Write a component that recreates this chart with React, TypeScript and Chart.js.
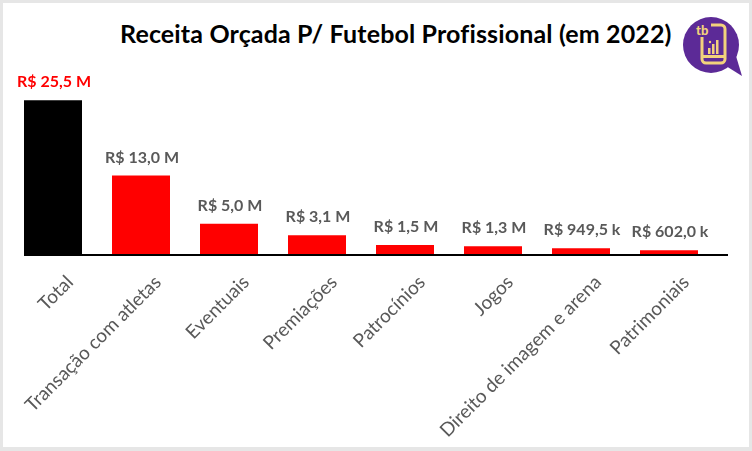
import { useEffect, useRef } from "react";
import { Chart, registerables } from "chart.js";

Chart.register(...registerables);

const categories = [
  "Total",
  "Transação com atletas",
  "Eventuais",
  "Premiações",
  "Patrocínios",
  "Jogos",
  "Direito de imagem e arena",
  "Patrimoniais",
];
const valuesMillions = [25.5, 13.0, 5.0, 3.1, 1.5, 1.3, 0.9495, 0.602];
const barColors = ["#000000", "#ff0000", "#ff0000", "#ff0000", "#ff0000", "#ff0000", "#ff0000", "#ff0000"];
const labelColors = ["#ff0000", "#595959", "#595959", "#595959", "#595959", "#595959", "#595959", "#595959"];
const yMax = 30;
const titleText = "Receita Orçada P/ Futebol Profissional (em 2022)";

const LABEL_SHIFT = 15;

function formatValue(v: number): string {
  if (v >= 1) return `R$ ${v.toFixed(1).replace(".", ",")} M`;
  return `R$ ${(v * 1000).toFixed(1).replace(".", ",")} k`;
}

const valueLabelsPlugin = {
  id: "valueLabels",
  afterDatasetsDraw(chart: any) {
    const ctx = chart.ctx;
    const meta = chart.getDatasetMeta(0);
    ctx.save();
    ctx.font = "bold 16px Lato";
    ctx.textAlign = "center";
    ctx.textBaseline = "alphabetic";
    meta.data.forEach((bar: any, i: number) => {
      ctx.fillStyle = labelColors[i];
      ctx.fillText(formatValue(valuesMillions[i]), bar.x + 1, bar.y - 13);
    });
    ctx.restore();
  },
};

const baselinePlugin = {
  id: "baseline",
  afterDatasetsDraw(chart: any) {
    const ctx = chart.ctx;
    const { left, right } = chart.chartArea;
    const y = chart.scales.y.getPixelForValue(0) + 1;
    ctx.save();
    ctx.strokeStyle = "#000000";
    ctx.lineWidth = 2;
    ctx.beginPath();
    ctx.moveTo(left + LABEL_SHIFT, y);
    ctx.lineTo(right + LABEL_SHIFT, y);
    ctx.stroke();
    ctx.restore();
  },
};

function Logo() {
  return (
    <svg
      width="64"
      height="64"
      viewBox="0 0 64 64"
      style={{ position: "absolute", left: 682, top: 16 }}
    >
      <circle cx="29" cy="29" r="28" fill="#5c2a97" />
      <polygon points="44,50 60,60 54,40" fill="#5c2a97" />
      <rect x="20" y="9" width="23" height="38" rx="4" fill="none" stroke="#f2d27c" strokeWidth="3" />
      <rect x="14" y="7" width="15" height="14" fill="#5c2a97" />
      <text x="14" y="19" fontFamily="Lato" fontWeight="900" fontSize="13" fill="#f2d27c">tb</text>
      <rect x="20" y="39" width="23" height="3" fill="#f2d27c" />
      <circle cx="31.5" cy="43.5" r="1.6" fill="#5c2a97" />
      <rect x="26" y="32" width="2.5" height="6" fill="#f2d27c" />
      <rect x="30" y="28" width="2.5" height="10" fill="#f2d27c" />
      <rect x="34" y="24" width="2.5" height="14" fill="#f2d27c" />
      <circle cx="28" cy="26" r="1.2" fill="#f2d27c" />
    </svg>
  );
}

export default function App() {
  const canvasRef = useRef<HTMLCanvasElement | null>(null);

  useEffect(() => {
    if (!canvasRef.current) return;
    const chart = new Chart(canvasRef.current, {
      type: "bar",
      data: {
        labels: categories,
        datasets: [
          {
            data: valuesMillions,
            backgroundColor: barColors,
            borderWidth: 0,
            categoryPercentage: 1,
            barPercentage: 58 / 88,
          },
        ],
      },
      options: {
        animation: false,
        responsive: false,
        devicePixelRatio: 1,
        layout: { padding: { left: 9, right: 39, top: 73, bottom: 0 } },
        plugins: {
          legend: { display: false },
          tooltip: { enabled: false },
          title: { display: false },
        },
        scales: {
          x: {
            type: "category",
            grid: { display: false },
            border: { display: false },
            afterFit: (s: any) => {
              s.height = 197;
            },
            ticks: {
              minRotation: 45,
              maxRotation: 45,
              autoSkip: false,
              labelOffset: LABEL_SHIFT + 2,
              padding: 9,
              color: "#595959",
              font: { family: "Lato", size: 19 },
            },
          },
          y: {
            display: false,
            min: 0,
            max: yMax,
          },
        },
      },
      plugins: [valueLabelsPlugin, baselinePlugin],
    });
    return () => chart.destroy();
  }, []);

  return (
    <div
      style={{
        position: "absolute",
        left: 0,
        top: 0,
        width: 752,
        height: 451,
        background: "#e6e6e6",
        overflow: "hidden",
      }}
    >
      <div
        style={{
          position: "absolute",
          left: 3,
          top: 3,
          width: 746,
          height: 444,
          background: "#ffffff",
        }}
      />
      <div
        style={{
          position: "absolute",
          left: 120,
          top: 18,
          fontFamily: "Lato",
          fontWeight: 700,
          fontSize: 25,
          letterSpacing: 0.15,
          color: "#000000",
          whiteSpace: "nowrap",
        }}
      >
        {titleText}
      </div>
      <Logo />
      <canvas
        ref={canvasRef}
        width={752}
        height={451}
        style={{ position: "absolute", left: 0, top: 0, width: 752, height: 451 }}
      />
    </div>
  );
}
